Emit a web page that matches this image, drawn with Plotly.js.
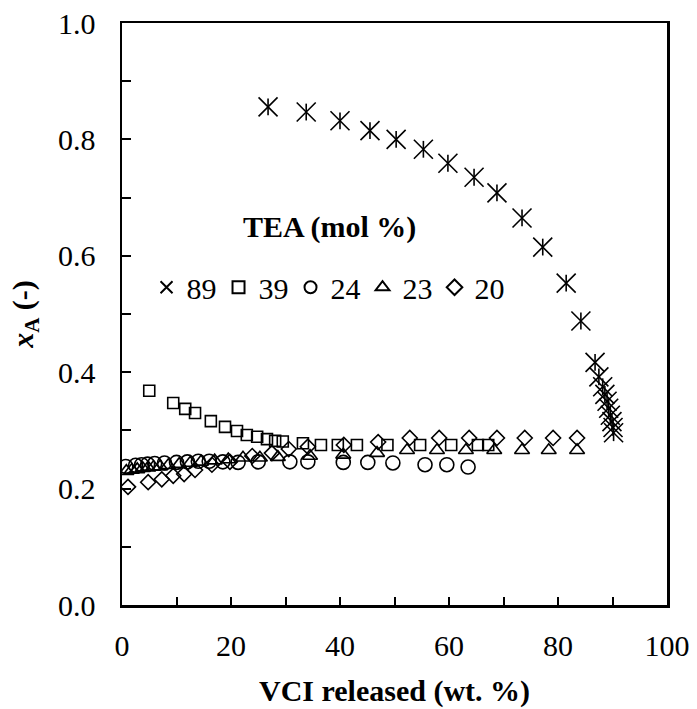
<!DOCTYPE html>
<html>
<head>
<meta charset="utf-8">
<script src="https://cdn.plot.ly/plotly-3.0.1.min.js"></script>
<style>html,body{margin:0;padding:0;background:#fff;} #chart{width:697px;height:709px;}</style>
</head>
<body>
<div id="chart"></div>
<script>
// TEA 89 mol %
const x89 = [26.8,33.8,40.0,45.5,50.3,55.3,59.8,64.6,68.8,73.4,77.2,81.5,84.2,86.8,87.5,88.2,88.6,89.0,89.3,89.6,89.9,90.1,90.2];
const y89 = [0.856,0.847,0.832,0.815,0.800,0.783,0.759,0.735,0.708,0.665,0.615,0.553,0.488,0.417,0.392,0.375,0.362,0.350,0.338,0.326,0.315,0.305,0.296];
// TEA 39 mol %
const x39 = [5.0,9.4,11.6,13.4,16.3,18.9,21.1,22.9,24.8,26.6,28.1,29.5,33.2,36.5,39.6,43.1,48.7,54.7,60.4,65.3,67.2];
const y39 = [0.368,0.347,0.337,0.330,0.316,0.306,0.299,0.292,0.289,0.285,0.282,0.281,0.278,0.275,0.275,0.275,0.275,0.275,0.275,0.275,0.275];
// TEA 24 mol %
const x24 = [0.7,2.5,3.6,4.7,6.0,7.8,10.0,12.0,14.0,16.0,18.5,21.3,25.0,30.8,34.1,40.6,45.1,49.7,55.6,59.6,63.5];
const y24 = [0.238,0.240,0.241,0.242,0.243,0.244,0.245,0.246,0.247,0.247,0.246,0.245,0.246,0.246,0.246,0.245,0.245,0.244,0.241,0.241,0.237];
// TEA 23 mol %
const x23 = [0.8,1.8,2.8,3.8,4.8,5.8,7.0,8.5,10.5,12.5,14.5,17.0,19.5,22.2,25.3,28.6,34.5,40.6,46.8,52.3,57.8,63.1,68.3,73.4,78.3,83.5];
const y23 = [0.230,0.232,0.233,0.235,0.236,0.237,0.238,0.240,0.242,0.244,0.246,0.248,0.250,0.253,0.253,0.254,0.256,0.258,0.261,0.266,0.266,0.266,0.266,0.266,0.266,0.266];
// TEA 20 mol %
const x20 = [1.1,4.8,7.3,9.4,11.4,13.4,16.5,19.8,23.9,27.5,30.6,34.1,40.7,47.0,52.8,58.2,63.7,68.8,73.9,79.1,83.5];
const y20 = [0.203,0.211,0.216,0.222,0.225,0.232,0.241,0.246,0.256,0.261,0.268,0.272,0.275,0.280,0.287,0.287,0.287,0.287,0.287,0.287,0.287];

const seriesNames = ['89','39','24','23','20'];
const legendTitle = 'TEA (mol %)';
const xTitle = 'VCI released (wt. %)';
const yTitle = '<i>x</i><sub>A</sub> (-)';

const FONT = "'Liberation Serif', serif";
const black = '#000';

const traces = [
  {x: x89, y: y89, type: 'scatter', mode: 'markers', name: seriesNames[0], showlegend: true,
   marker: {symbol: 'x-thin-open', size: 19, color: black, line: {color: black, width: 1.6}}},
  {x: x89, y: y89, type: 'scatter', mode: 'markers', name: seriesNames[0], showlegend: false,
   marker: {symbol: 'line-ns-open', size: 12, color: black, line: {color: black, width: 1.6}}},
  {x: x39, y: y39, type: 'scatter', mode: 'markers', name: seriesNames[1],
   marker: {symbol: 'square-open', size: 11, color: black, line: {color: black, width: 1.6}}},
  {x: x24, y: y24, type: 'scatter', mode: 'markers', name: seriesNames[2],
   marker: {symbol: 'circle-open', size: 14, color: black, line: {color: black, width: 1.6}}},
  {x: x23, y: y23, type: 'scatter', mode: 'markers', name: seriesNames[3],
   marker: {symbol: 'triangle-up-open', size: 13, color: black, line: {color: black, width: 1.6}}},
  {x: x20, y: y20, type: 'scatter', mode: 'markers', name: seriesNames[4],
   marker: {symbol: 'diamond-open', size: 11.5, color: black, line: {color: black, width: 1.6}}}
];

const layout = {
  width: 697, height: 709,
  margin: {l: 122, r: 30, t: 23, b: 104},
  paper_bgcolor: '#fff', plot_bgcolor: '#fff',
  font: {family: FONT, size: 30, color: black},
  showlegend: true,
  legend: {
    orientation: 'h', x: 0.045, xanchor: 'left', y: 0.546, yanchor: 'middle',
    bgcolor: 'rgba(0,0,0,0)', borderwidth: 0,
    font: {family: FONT, size: 30, color: black},
    itemsizing: 'constant', entrywidth: 27, entrywidthmode: 'pixels',
    itemclick: false, traceorder: 'normal'
  },
  xaxis: {
    range: [0, 100], tickmode: 'linear', tick0: 0, dtick: 20,
    ticks: 'inside', ticklen: 8, tickwidth: 2, tickcolor: black,
    minor: {dtick: 10, ticks: 'inside', ticklen: 8, tickwidth: 2, tickcolor: black},
    showline: true, linewidth: 2.5, linecolor: black, mirror: true,
    showgrid: false, zeroline: false,
    tickfont: {family: FONT, size: 30, color: black},
    ticklabelstandoff: 12,
    title: {text: '<b>' + xTitle + '</b>', font: {family: FONT, size: 30, color: black}, standoff: 20}
  },
  yaxis: {
    range: [0, 1], tickmode: 'linear', tick0: 0, dtick: 0.2, tickformat: '.1f',
    ticks: 'inside', ticklen: 9, tickwidth: 2, tickcolor: black,
    minor: {dtick: 0.1, ticks: 'inside', ticklen: 9, tickwidth: 2, tickcolor: black},
    showline: true, linewidth: 2.5, linecolor: black, mirror: true,
    showgrid: false, zeroline: false,
    tickfont: {family: FONT, size: 30, color: black},
    ticklabelstandoff: 18,
    title: {text: '<b>' + yTitle + '</b>', font: {family: FONT, size: 30, color: black}, standoff: 16}
  },
  annotations: [
    {text: '<b>' + legendTitle + '</b>', xref: 'paper', yref: 'paper', x: 0.38, y: 0.65,
     xanchor: 'center', yanchor: 'middle', showarrow: false,
     font: {family: FONT, size: 30, color: black}}
  ]
};

Plotly.newPlot('chart', traces, layout, {staticPlot: true, displayModeBar: false});
</script>
</body>
</html>
